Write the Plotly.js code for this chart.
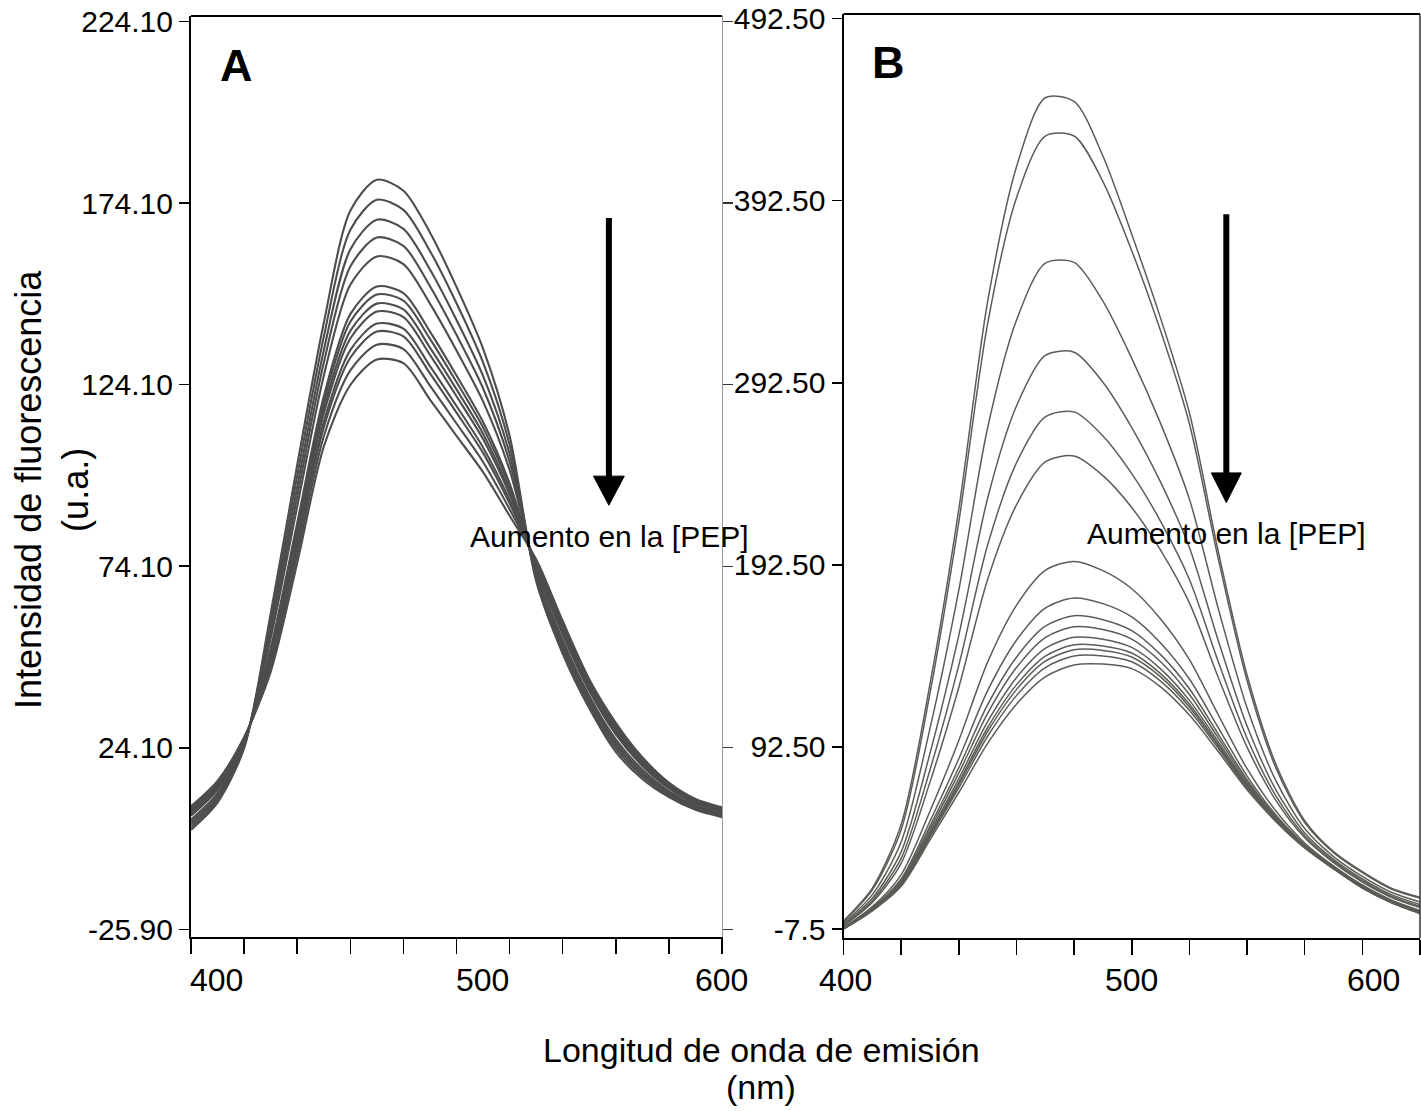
<!DOCTYPE html>
<html>
<head>
<meta charset="utf-8">
<script src="https://cdn.plot.ly/plotly-3.0.1.min.js"></script>
<style>html,body{margin:0;padding:0;background:#fff;}#chart{width:1421px;height:1111px;}</style>
</head>
<body>
<div id="chart"></div>
<script>
// Emission wavelength grid (nm)
const wavelength = [400,410,420,430,440,450,460,470,480,490,500,510,520,530,540,550,560,570,580,590,600];

// Panel A spectra (u.a.), highest to lowest
const A1  = [1.5,9,24,61,102,141,172,180.5,177.5,166,151,134,110,70,50,35,23,15.5,10.5,7,5];
const A2  = [2.2,9.7,24.3,59.2,99.0,137.2,166.7,175.0,172.2,160.9,146.5,130.2,107.6,70.7,51.0,35.9,23.9,16.2,10.9,7.3,5.3];
const A3  = [2.9,10.3,24.7,57.5,96.0,133.5,161.3,169.5,167.0,155.8,141.9,126.5,105.1,71.3,52.0,36.8,24.8,16.8,11.4,7.7,5.6];
const A4  = [3.6,10.9,25.0,55.9,93.3,130.1,156.6,164.6,162.3,151.2,137.8,123.1,102.9,71.9,52.9,37.6,25.6,17.4,11.8,8.0,5.9];
const A5  = [4.3,11.6,25.3,54.2,90.5,126.5,151.6,159.4,157.3,146.4,133.5,119.5,100.6,72.6,53.8,38.4,26.4,18.1,12.2,8.3,6.2];
const A6  = [5.4,12.6,25.8,51.5,86.0,120.8,143.5,151.1,149.3,138.7,126.6,113.8,96.9,73.6,55.3,39.8,27.8,19.1,12.9,8.8,6.6];
const A7  = [5.6,12.8,25.9,50.8,84.8,119.3,141.4,148.9,147.2,136.7,124.8,112.3,96.0,73.8,55.7,40.1,28.1,19.3,13.1,8.9,6.7];
const A8  = [6.0,13.1,26.1,50.0,83.4,117.6,138.9,146.4,144.8,134.3,122.8,110.6,94.8,74.1,56.2,40.5,28.5,19.6,13.3,9.1,6.9];
const A9  = [6.3,13.4,26.2,49.3,82.2,116.1,136.8,144.2,142.7,132.3,120.9,109.1,93.9,74.4,56.6,40.9,28.9,19.9,13.4,9.2,7.0];
const A10 = [6.7,13.8,26.4,48.2,80.4,113.8,133.6,140.9,139.5,129.2,118.2,106.8,92.4,74.8,57.2,41.4,29.4,20.3,13.7,9.4,7.2];
const A11 = [7.0,14.1,26.5,47.5,79.2,112.3,131.5,138.7,137.4,127.2,116.4,105.3,91.4,75.1,57.6,41.8,29.8,20.6,13.9,9.5,7.3];
const A12 = [7.5,14.5,26.8,46.3,77.2,109.8,128.0,135.1,133.9,123.8,113.4,102.8,89.8,75.5,58.3,42.3,30.3,21.0,14.2,9.8,7.5];
const A13 = [8,15,27,45,75,107,124,131,130,120,110,100,88,76,59,43,31,21.5,14.5,10,7.7];

// Panel B spectra (u.a.), highest to lowest
const B1  = [-3,15,50,127,223,337,411,449,447,417,374,328,276,200,132,83,52,35,24,15,10];
const B2  = [-3.5,14,47,122,216,325,394,428,428,403,365,321,270,196,129,81,51,34.5,23.5,14.5,9.5];
const B3  = [-4.3,11.4,40.3,102.6,178.6,267.8,326.8,358.2,358.6,337.3,305.9,270.2,228.6,168.6,114.0,74.0,47.7,32.3,21.4,12.7,7.4];
const B4  = [-5.0,9.4,34.9,89.0,153.8,229.1,279.7,307.5,309.3,292.8,267.9,237.9,202.1,151.0,104.0,69.0,45.3,30.8,20.0,11.4,6.0];
const B5  = [-5.5,8.1,31.3,79.9,137.3,203.4,248.5,273.8,276.5,263.3,242.6,216.4,184.5,139.4,97.3,65.6,43.7,29.8,19.0,10.6,5.0];
const B6  = [-5.8,7.1,28.6,73.2,125.2,184.5,225.4,249.0,252.3,241.5,224.0,200.6,171.6,130.8,92.4,63.2,42.6,29.0,18.3,10.0,4.3];
const B7  = [-6.7,4.8,22.3,57.2,96.1,139.1,170.3,189.5,194.4,189.3,179.4,162.8,140.5,110.2,80.6,57.3,39.8,27.2,16.7,8.5,2.7];
const B8  = [-7.0,4.0,20.0,51.7,86.0,123.4,151.1,168.8,174.3,171.2,163.9,149.6,129.8,103.1,76.5,55.2,38.8,26.6,16.1,8.0,2.1];
const B9  = [-7.1,3.6,19.0,49.0,81.1,115.7,141.8,158.8,164.6,162.4,156.4,143.2,124.5,99.6,74.5,54.3,38.3,26.3,15.8,7.7,1.8];
const B10 = [-7.2,3.4,18.3,47.3,78.1,111.0,136.1,152.6,158.5,157.0,151.7,139.3,121.3,97.5,73.3,53.6,38.0,26.1,15.6,7.5,1.6];
const B11 = [-7.3,3.1,17.7,45.7,75.1,106.4,130.5,146.6,152.7,151.7,147.2,135.4,118.1,95.4,72.1,53.0,37.7,26.0,15.4,7.4,1.4];
const B12 = [-7.3,3.0,17.2,44.6,73.1,103.2,126.6,142.4,148.6,148.0,144.1,132.8,116.0,94.0,71.3,52.6,37.5,25.8,15.3,7.3,1.3];
const B13 = [-7.4,2.8,16.9,43.8,71.7,101.0,124.0,139.6,145.9,145.5,141.9,131.0,114.5,93.0,70.7,52.4,37.4,25.8,15.2,7.2,1.2];
const B14 = [-7.4,2.7,16.5,42.9,70.0,98.4,120.7,136.1,142.5,142.5,139.3,128.7,112.7,91.8,70.0,52.0,37.2,25.7,15.1,7.1,1.1];
const B15 = [-7.5,2.5,16,41.5,67.5,94.5,116,131,137.5,138,135.5,125.5,110,90,69,51.5,37,25.5,15,7,1];

// Axis ticks
const xTicks = [400,420,440,460,480,500,520,540,560,580,600];
const xLabels = [400,500,600];
const yTicksA = [-25.9,24.1,74.1,124.1,174.1,224.1];
const yTextA  = ["-25.90","24.10","74.10","124.10","174.10","224.10"];
const yTicksB = [-7.5,92.5,192.5,292.5,392.5,492.5];
const yTextB  = ["-7.5","92.50","192.50","292.50","392.50","492.50"];

const seriesA = [A1,A2,A3,A4,A5,A6,A7,A8,A9,A10,A11,A12,A13];
const seriesB = [B1,B2,B3,B4,B5,B6,B7,B8,B9,B10,B11,B12,B13,B14,B15];

const FONT = 'Liberation Sans, Arial, Helvetica, sans-serif';
const W = 1421, H = 1111;
const px = v => v / W;
const py = v => 1 - v / H;

const traces = [];
seriesA.forEach((s) => traces.push({
  x: wavelength, y: s, xaxis: 'x', yaxis: 'y', type: 'scatter', mode: 'lines',
  line: {color: '#4d4d4d', width: 2.1, shape: 'spline', smoothing: 0.8},
  hoverinfo: 'skip', showlegend: false
}));
seriesB.forEach((s) => traces.push({
  x: wavelength, y: s, xaxis: 'x2', yaxis: 'y2', type: 'scatter', mode: 'lines',
  line: {color: '#5c5c57', width: 1.5, shape: 'spline', smoothing: 0.8},
  hoverinfo: 'skip', showlegend: false
}));
// empty trace so the right-hand axis of panel A is drawn
traces.push({x: [], y: [], xaxis: 'x', yaxis: 'y3', type: 'scatter', showlegend: false});

const domAx = [px(191), px(722)];
const domAy = [py(937), py(16)];
const domBx = [px(843.5), px(1420)];
const domBy = [py(938), py(14)];

const baseX = {
  range: [400, 600], tickvals: xTicks, ticks: 'outside', ticklen: 15, tickwidth: 1.5,
  tickcolor: '#000', showticklabels: false, showline: true, linecolor: '#000', linewidth: 2,
  showgrid: false, zeroline: false, fixedrange: true
};
const baseY = {
  ticks: 'outside', ticklen: 10, tickwidth: 1.5, tickcolor: '#000',
  showline: true, linecolor: '#000', linewidth: 2, showgrid: false, zeroline: false,
  tickfont: {family: FONT, size: 30, color: '#000'}, fixedrange: true
};

const annotations = [];
const tickShiftA = [26, 26, -1];
const tickShiftB = [2, 0, -47];
xLabels.forEach((v, i) => {
  annotations.push({x: v, xref: 'x', y: py(980), yref: 'paper', text: String(v), showarrow: false,
    xshift: tickShiftA[i], font: {family: FONT, size: 32, color: '#000'}, xanchor: 'center', yanchor: 'middle'});
  annotations.push({x: v, xref: 'x2', y: py(980), yref: 'paper', text: String(v), showarrow: false,
    xshift: tickShiftB[i], font: {family: FONT, size: 32, color: '#000'}, xanchor: 'center', yanchor: 'middle'});
});
annotations.push(
  {x: px(236), y: py(65), xref: 'paper', yref: 'paper', text: '<b>A</b>', showarrow: false,
   font: {family: FONT, size: 45, color: '#000'}, xanchor: 'center', yanchor: 'middle'},
  {x: px(888), y: py(62), xref: 'paper', yref: 'paper', text: '<b>B</b>', showarrow: false,
   font: {family: FONT, size: 45, color: '#000'}, xanchor: 'center', yanchor: 'middle'},
  {x: px(609), y: py(536), xref: 'paper', yref: 'paper', text: 'Aumento en la [PEP]', showarrow: false,
   font: {family: FONT, size: 30, color: '#000'}, xanchor: 'center', yanchor: 'middle'},
  {x: px(1226.5), y: py(534), xref: 'paper', yref: 'paper', text: 'Aumento en la [PEP]', showarrow: false,
   font: {family: FONT, size: 30, color: '#000'}, xanchor: 'center', yanchor: 'middle'},
  {x: px(52), y: py(490), xref: 'paper', yref: 'paper', text: 'Intensidad de fluorescencia<br>(u.a.)',
   showarrow: false, textangle: -90, font: {family: FONT, size: 36, color: '#000'}, xanchor: 'center', yanchor: 'middle'},
  {x: px(761), y: py(1050), xref: 'paper', yref: 'paper', text: 'Longitud de onda de emisión',
   showarrow: false, borderpad: 0, font: {family: FONT, size: 34, color: '#000'}, xanchor: 'center', yanchor: 'middle'},
  {x: px(761), y: py(1087), xref: 'paper', yref: 'paper', text: '(nm)',
   showarrow: false, borderpad: 0, font: {family: FONT, size: 34, color: '#000'}, xanchor: 'center', yanchor: 'middle'}
);

const shapes = [
  // top borders
  {type: 'line', xref: 'x domain', yref: 'y domain', x0: 0, x1: 1, y0: 1, y1: 1, line: {color: '#000', width: 2}},
  {type: 'line', xref: 'x2 domain', yref: 'y2 domain', x0: 0, x1: 1, y0: 1, y1: 1, line: {color: '#000', width: 2}},
  // right border of B
  {type: 'line', xref: 'x2 domain', yref: 'y2 domain', x0: 1, x1: 1, y0: 0, y1: 1, line: {color: '#333', width: 1.5}},
  // arrow A
  {type: 'line', xref: 'x', yref: 'y', x0: 557.4, x1: 557.4, y0: 170.0, y1: 98.0, line: {color: '#000', width: 6}},
  {type: 'path', xref: 'x', yref: 'y', path: 'M 551.6 98.9 L 563.2 98.9 L 557.4 90.9 Z', fillcolor: '#000', line: {color: '#000', width: 1}},
  // arrow B
  {type: 'line', xref: 'x2', yref: 'y2', x0: 532.8, x1: 532.8, y0: 385.0, y1: 241.0, line: {color: '#000', width: 6}},
  {type: 'path', xref: 'x2', yref: 'y2', path: 'M 527.6 243.0 L 538.0 243.0 L 532.8 226.7 Z', fillcolor: '#000', line: {color: '#000', width: 1}}
];

const layout = {
  width: W, height: H,
  margin: {l: 0, r: 0, t: 0, b: 0, pad: 0},
  paper_bgcolor: '#fff', plot_bgcolor: 'rgba(0,0,0,0)',
  showlegend: false,
  font: {family: FONT, color: '#000'},
  xaxis: Object.assign({}, baseX, {domain: domAx, anchor: 'y'}),
  yaxis: Object.assign({}, baseY, {domain: domAy, anchor: 'x', range: [-28.0, 225.6], tickvals: yTicksA, ticktext: yTextA}),
  yaxis3: {overlaying: 'y', anchor: 'x', side: 'right', range: [-28.0, 225.6], tickvals: yTicksA,
    ticks: 'outside', ticklen: 10, tickwidth: 1.2, tickcolor: '#333', showticklabels: false,
    showline: true, linecolor: '#999', linewidth: 1.2, showgrid: false, zeroline: false, fixedrange: true},
  xaxis2: Object.assign({}, baseX, {domain: domBx, anchor: 'y2'}),
  yaxis2: Object.assign({}, baseY, {domain: domBy, anchor: 'x2', range: [-12.4, 495.0], tickvals: yTicksB, ticktext: yTextB}),
  annotations: annotations,
  shapes: shapes
};

Plotly.newPlot('chart', traces, layout, {displayModeBar: false, staticPlot: true});
</script>
</body>
</html>
